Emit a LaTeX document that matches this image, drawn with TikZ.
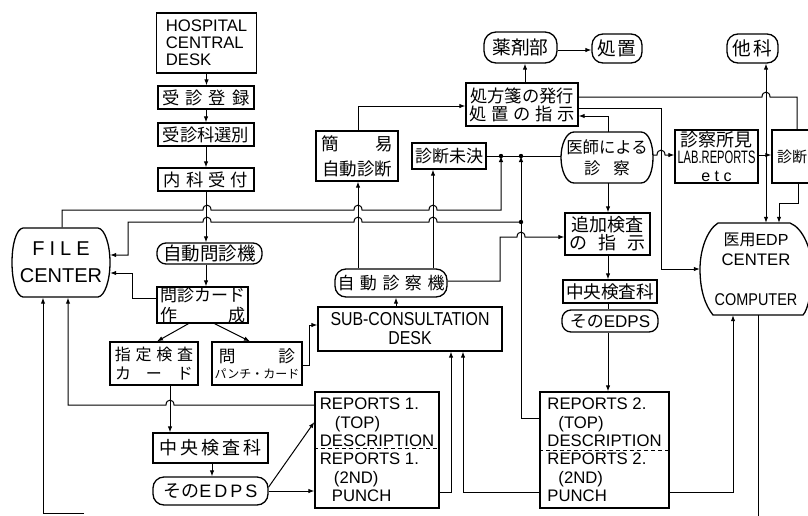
\documentclass[tikz,border=0pt]{standalone}
\usepackage{fontspec}
\setmainfont{Liberation Sans}
\newfontfamily\jp{Noto Sans CJK JP}
\newfontfamily\cond[FakeStretch=0.85]{Liberation Sans}
\newfontfamily\vcond[FakeStretch=0.62]{Liberation Sans}
\usetikzlibrary{arrows.meta,calc}
\newcommand\myfs[2]{\fontsize{#1}{#2}\selectfont}
\tikzset{
  bl/.style={line width=1.3pt},
  box/.style={draw, line width=1.3pt, inner sep=0pt},
  nobox/.style={inner sep=0pt},
  wh/.style 2 args={minimum width=#1, minimum height=#2},
  stad/.style={box, rounded corners=#1},
  arr/.style={line width=1pt, -{Latex[length=6pt,width=4.5pt]}},
  ln/.style={line width=1pt},
  hR/.style args={#1/#2}{insert path={-- (#1-4,#2) .. controls (#1-4,#2-6.5) and (#1+4,#2-6.5) .. (#1+4,#2)}},
  hL/.style args={#1/#2}{insert path={-- (#1+4,#2) .. controls (#1+4,#2-6.5) and (#1-4,#2-6.5) .. (#1-4,#2)}},
}
\begin{document}
\begin{tikzpicture}[x=1pt,y=-1pt]
\useasboundingbox (0,0) rectangle (808,515);
% ---------- nodes ----------
\node[box, wh={100}{60}, align=left, font=\myfs{16.7}{17}] (hosp) at (206.5,43) {HOSPITAL\\CENTRAL\\DESK};
\node[box, wh={96}{23}, font=\jp\myfs{17.3}{17.3}] (juten) at (206,97.5) {受\hspace{6pt}診\hspace{6pt}登\hspace{6pt}録};
\node[box, wh={96}{23}, font=\jp\myfs{17.3}{17.3}] (jusen) at (206,134.5) {受診科選別};
\node[box, wh={96}{23}, font=\jp\myfs{17.3}{17.3}] (naika) at (206,179.5) {内\hspace{5pt}科\hspace{5pt}受\hspace{5pt}付};
\node[nobox, wh={98}{70}, align=center, font=\myfs{20}{27}] (filec) at (61,262.5) {F\hspace{5pt}I\hspace{5pt}L\hspace{5pt}E\\CENTER};
\draw[bl] (23,228) -- (98,228) .. controls (105,229) and (110,245) .. (110,262.5) .. controls (110,280) and (105,296) .. (98,297) -- (23,297) .. controls (16,296) and (12,280) .. (12,262.5) .. controls (12,245) and (16,229) .. (23,228) -- cycle;
\node[stad=9pt, wh={105}{21}, font=\jp\myfs{18.5}{18.5}] (jimon) at (209.5,253.5) {自動問診機};
\node[box, wh={91}{36}, align=center, font=\jp\myfs{17}{20}] (moncard) at (202.5,305) {問診カード\\作\hspace{51pt}成};
\node[box, wh={88}{43}, align=center, font=\jp\myfs{16}{19}] (shitei) at (154,363.5) {指\hspace{4.7pt}定\hspace{4.7pt}検\hspace{4.7pt}査\\カ\hspace{15pt}ー\hspace{15pt}ド};
\node[box, wh={90}{43}, align=center, font=\jp\myfs{16.7}{16}] (monpunch) at (257,363.5) {問\hspace{43pt}診\\{\myfs{12}{14}パンチ・カード}};
\node[box, wh={115}{30}, font=\jp\myfs{18}{18}] (chuoL) at (210.5,448) {中\hspace{3pt}央\hspace{3pt}検\hspace{3pt}査\hspace{3pt}科};
\node[stad=11pt, wh={115}{28}, font=\myfs{18}{18}] (edpsL) at (210.5,491) {{\jp その}E\hspace{3pt}D\hspace{3pt}P\hspace{3pt}S};
\node[box, wh={124}{116}, align=left, font=\myfs{16.7}{18.4}] (rep1) at (377,450) {REPORTS 1.\\\hspace*{15pt}(TOP)\\DESCRIPTION\\REPORTS 1.\\\hspace*{14pt}(2ND)\\\hspace*{12pt}PUNCH};
\node[box, wh={129}{116}, align=left, font=\myfs{16.7}{18.4}] (rep2) at (604.5,450) {REPORTS 2.\\\hspace*{11pt}(TOP)\\DESCRIPTION\\REPORTS 2.\\\hspace*{11pt}(2ND)\\PUNCH};
\draw[ln, dashed, dash pattern=on 4pt off 3pt] (rep1.west |- 0,448) -- (rep1.east |- 0,448);
\draw[ln, dashed, dash pattern=on 4pt off 3pt] (rep2.west |- 0,450) -- (rep2.east |- 0,450);
\node[box, wh={184}{44}, align=center, font=\cond\myfs{18.7}{19}] (subdesk) at (410,329) {SUB-CONSULTATION\\DESK};
\node[stad=11pt, wh={112}{28}, font=\jp\myfs{17}{17}] (jishin) at (391,283) {自\hspace{5.5pt}動\hspace{5.5pt}診\hspace{5.5pt}察\hspace{5.5pt}機};
\node[box, wh={82}{50}, align=center, font=\jp\myfs{17.5}{25}] (kani) at (357,156) {簡\hspace{37pt}易\\自動診断};
\node[box, wh={74}{26}, font=\jp\myfs{17}{17}] (mike) at (449,156) {診断未決};
\node[box, wh={112}{43}, align=center, font=\jp\myfs{17.3}{18}] (shoho) at (522,104.5) {処方箋の発行\\処\hspace{4.6pt}置\hspace{4.6pt}の\hspace{4.6pt}指\hspace{4.6pt}示};
\node[stad=12pt, wh={73}{31}, font=\jp\myfs{18.7}{18.7}] (yaku) at (520.5,47.5) {薬剤部};
\node[stad=11pt, wh={50}{29}, font=\jp\myfs{18.7}{18.7}] (shochi) at (617,48.5) {処\hspace{2pt}置};
\node[stad=11pt, wh={51}{29}, font=\jp\myfs{18.7}{18.7}] (taka) at (752.5,48.5) {他\hspace{2pt}科};
\node[nobox, wh={92}{51}, align=center, font=\jp\myfs{16.4}{21}] (ishi) at (607,157.5) {医師による\\診\hspace{13pt}察};
\draw[bl] (574,132) -- (641,132) .. controls (649,132) and (653,145) .. (653,157.5) .. controls (653,170) and (649,183) .. (641,183) -- (574,183) .. controls (566,183) and (561,170) .. (561,157.5) .. controls (561,145) and (566,132) .. (574,132) -- cycle;
\node[box, wh={83}{53}, align=center, font=\myfs{18}{17}] (shoken) at (716.5,156.5) {{\jp 診察所見}\\{\vcond LAB.REPORTS}\\[1pt]{\myfs{16}{17}e\hspace{4.5pt}t\hspace{4.5pt}c}};
\node[box, wh={40}{53}, font=\jp\myfs{15}{15}] (shindan) at (792,156.5) {診断};
\node[box, wh={85}{42}, align=center, font=\jp\myfs{18}{18}] (tsuika) at (607.5,234) {追加検査\\の\hspace{11.5pt}指\hspace{11.5pt}示};
\node[box, wh={94}{23}, font=\jp\myfs{17.6}{17.6}] (chuoR) at (610,291.5) {中央検査科};
\node[stad=9pt, wh={96}{22}, font=\myfs{17}{17}] (edpsR) at (610,321) {{\jp その}EDPS};
\node[nobox, wh={112}{92}, align=center, font=\myfs{16}{20}] (edpc) at (756,269) {{\jp 医用}EDP\\{\myfs{16.7}{20}CENTER}\\[20pt]{\cond\myfs{17}{20}COMPUTER}};
\draw[bl] (718,223) -- (790,223) .. controls (803,228) and (812,250) .. (812,269) .. controls (812,290) and (808,310) .. (803,315) -- (713,315) .. controls (705,305) and (700,290) .. (700,269) .. controls (700,250) and (707,230) .. (718,223) -- cycle;
% ---------- junctions ----------
\coordinate (j1) at (501,156);
\coordinate (j2) at (521,156);
\coordinate (j3) at (521,222);
\coordinate (j4) at (766,155);
\coordinate (bl) at (84,513);
\coordinate (br) at (758,530);
% ---------- connectors ----------
\draw[arr] (hosp.south) -- (hosp.south |- juten.north);
\draw[arr] (juten.south) -- (juten.south |- jusen.north);
\draw[arr] (jusen.south) -- (jusen.south |- naika.north);
\draw[arr] (naika.south) -- (naika.south |- jimon.north);
\draw[arr] (jimon.south -| naika.south) -- (naika.south |- moncard.north);
\draw[arr] ($(moncard.south)+(-14,0)$) -- ($(shitei.north)+(3,0)$);
\draw[arr] ($(moncard.south)+(12,0)$) -- ($(monpunch.north)+(-7,0)$);
\draw[arr] (moncard.west |- 0,298) -- (132,298) -- (132,273) -- (filec.east |- 0,273);
\draw[arr] (rep1.west |- 0,405) [hL=170/405] -- (68,405) -- (filec.south -| 68,0);
\draw[arr] (bl) -- (43,513) -- (filec.south -| 43,0);
\draw[arr] (shitei.south -| 170,0) -- (chuoL.north -| 170,0);
\draw[arr] (chuoL.south -| 212,0) -- (edpsL.north -| 212,0);
\draw[arr] ($(edpsL.east)+(0,-4)$) -- (rep1.west |- 0,422);
\draw[arr] (edpsL.east) -- (rep1.west |- edpsL.east);
\draw[arr] (monpunch.east |- 0,365) -- (309,365) -- (309,325) -- (subdesk.west |- 0,325);
\draw[arr] (rep1.east |- 0,492) -- (451,492) -- (subdesk.south -| 451,0);
\draw[arr] (rep2.west |- 0,492) -- (463,492) -- (subdesk.south -| 463,0);
\draw[arr] (subdesk.north -| 396,0) -- (jishin.south -| 396,0);
\draw[arr] (jishin.north -| 358,0) -- (kani.south -| 358,0);
\draw[arr] (jishin.north -| 433,0) -- (mike.south -| 433,0);
\draw[arr] (kani.north -| 358,0) -- (358,106) -- (shoho.west |- 0,106);
\draw[ln] (mike.east) -- (ishi.west |- mike.east);
\draw[arr] (filec.north -| 62,0) -- (62,210) [hR=207/210] [hR=358/210] [hR=433/210] -- (j1 |- 0,210) -- (j1);
\draw[arr] (j3) [hL=433/222] [hL=358/222] [hL=207/222] -- (128,222) -- (128,255) -- (filec.east |- 0,255);
\draw[arr] (rep2.west |- 0,418) -- (521,418) -- (j2);
\draw[arr] (jishin.east |- 0,281) -- (500,281) -- (500,237) [hR=521/237] -- (tsuika.west |- 0,237);
\draw[arr] (ishi.north -| 608,0) -- (608,116) -- (shoho.east |- 0,116);
\draw[arr] (shoho.north -| 525,0) -- (yaku.south -| 525,0);
\draw[arr] (yaku.east |- 0,50) -- (shochi.west |- 0,50);
\draw[ln] (shoho.east |- 0,97) [hR=766/97] -- (797,97) -- (shindan.north -| 797,0);
\draw[arr] (shoho.east |- 0,108) -- (661,108) -- (661,269) -- (edpc.west |- 0,269);
\draw[arr] (ishi.east |- 0,155) [hR=661/155] -- (shoken.west |- 0,155);
\draw[arr] (shoken.east |- 0,155) -- (shindan.west |- 0,155);
\draw[arr] (j4) -- (taka.south -| j4);
\draw[arr] (j4) -- (edpc.north -| j4);
\draw[arr] (shindan.south -| 798,0) -- (798,203) -- (779,203) -- (edpc.north -| 779,0);
\draw[arr] (ishi.south -| 608,0) -- (tsuika.north -| 608,0);
\draw[arr] (tsuika.south -| 608,0) -- (chuoR.north -| 608,0);
\draw[ln] (chuoR.south -| 608,0) -- (edpsR.north -| 608,0);
\draw[arr] (edpsR.south -| 608,0) -- (rep2.north -| 608,0);
\draw[arr] (rep2.east |- 0,492) -- (733,492) -- (edpc.south -| 733,0);
\draw[ln] (edpc.south -| 758,0) -- (br);
\fill (j1) circle[radius=2.2pt];
\fill (j2) circle[radius=2.2pt];
\fill (j3) circle[radius=2.2pt];
\end{tikzpicture}
\end{document}
